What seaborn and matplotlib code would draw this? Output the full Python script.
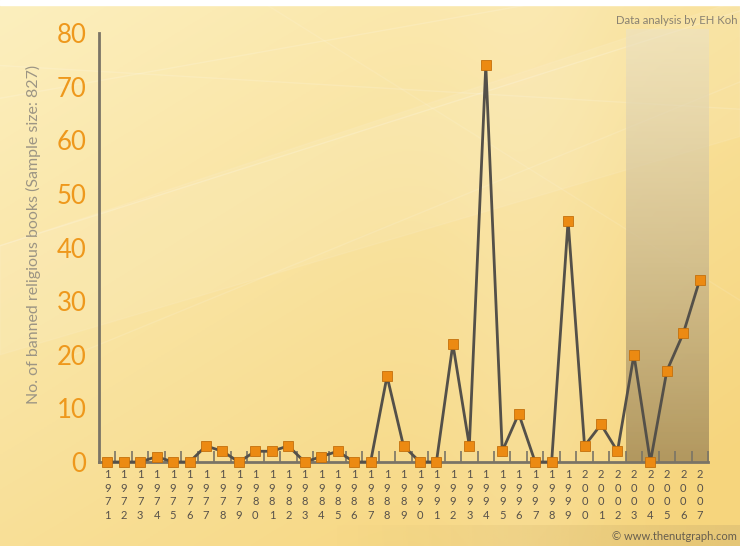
import numpy as np
import pandas as pd
import matplotlib
matplotlib.use("Agg")
import matplotlib.pyplot as plt
import seaborn as sns

# Banned religious books per year
years = list(range(1971, 2008))
counts = [0, 0, 0, 1, 0, 0, 3, 2, 0, 2, 2, 3, 0, 1, 2, 0, 0, 16, 3, 0,
          0, 22, 3, 74, 2, 9, 0, 0, 45, 3, 7, 2, 20, 0, 17, 24, 34]
y_ticks = [0, 10, 20, 30, 40, 50, 60, 70, 80]
highlight_years = (2003, 2007)

df = pd.DataFrame({"year": years, "count": counts})

sns.set_theme(style="white")
plt.rcParams["font.family"] = ["Lato", "DejaVu Sans"]

W, H = 740, 546
fig = plt.figure(figsize=(W / 100, H / 100), dpi=100)

# ---- warm yellow backdrop ----
bg = fig.add_axes([0, 0, 1, 1])
bg.set_axis_off()
gx, gy = np.meshgrid(np.linspace(0, 1, 300), np.linspace(0, 1, 220))
t = np.clip(0.5 * gx + 0.6 * gy, 0, 1)
top = np.array([252, 239, 190]) / 255
bot = np.array([246, 213, 125]) / 255
img = top[None, None, :] * (1 - t[..., None]) + bot[None, None, :] * t[..., None]
# a lighter vertical glow through the middle
glow = np.exp(-((gx - 0.72) / 0.12) ** 2)[..., None] * 0.12
img = img * (1 - glow) + glow
bg.imshow(img, extent=[0, 1, 0, 1], origin="upper", aspect="auto")
# faint light streaks
for (x0, y0, x1, y1, a) in [(0.0, 0.55, 1.0, 0.98, 0.18), (0.0, 0.82, 0.75, 1.0, 0.15),
                            (0.1, 0.35, 1.0, 0.85, 0.12), (0.0, 0.88, 1.0, 0.8, 0.14),
                            (0.35, 1.0, 1.0, 0.45, 0.1)]:
    bg.plot([x0, x1], [y0, y1], color="white", lw=1.0, alpha=a, transform=bg.transAxes)
bg.fill_between([0.0, 1.0], [0.35, 0.75], [0.55, 1.0], color="white", alpha=0.08,
                transform=bg.transAxes)
# darker footer band
band = np.linspace(0, 1, 200)[None, :, None]
band_img = np.concatenate([np.ones((1, 200, 3)) * np.array([218, 188, 115]) / 255,
                           (band * 0.6)], axis=2)
bg.imshow(band_img, extent=[0.45, 1.0, 0.0, 21 / H], aspect="auto", zorder=1)
# white strip across the very top
bg.axhspan(1 - 5 / H, 1.0, color="white", zorder=2)
bg.set_xlim(0, 1)
bg.set_ylim(0, 1)

# ---- main chart ----
left, right = 99 / W, 708 / W
bottom, topf = 1 - 462 / H, 1 - 33 / H
ax = fig.add_axes([left, bottom, right - left, topf - bottom])
ax.patch.set_alpha(0)

# shaded recent period with vertical gradient
rows = 200
shade = np.zeros((rows, 2, 4))
g = np.linspace(0, 1, rows)[:, None]
c_top = np.array([236, 226, 196]) / 255
c_bot = np.array([176, 150, 94]) / 255
shade[..., :3] = (c_top * (1 - g) + c_bot * g)[:, None, :]
shade[..., 3] = 0.6 + 0.37 * g
ax.imshow(shade, extent=[highlight_years[0] - 0.5, highlight_years[1] + 0.5, 0, 80.6],
          aspect="auto", origin="upper", zorder=0, clip_on=False)

sns.lineplot(data=df, x="year", y="count", ax=ax, color="#545049", lw=2.0,
             marker="s", markersize=7.5, markerfacecolor="#ec8a12",
             markeredgecolor="#c4700c", markeredgewidth=0.6, zorder=3, clip_on=False)

ax.set_xlim(years[0] - 0.5, years[-1] + 0.5)
ax.set_ylim(0, 80)

for side in ["top", "right"]:
    ax.spines[side].set_visible(False)
for side in ["left", "bottom"]:
    ax.spines[side].set_color("#7a7466")
    ax.spines[side].set_linewidth(2.0)

ax.set_yticks(y_ticks)
ax.set_yticklabels([str(v) for v in y_ticks], color="#ee981c", fontsize=18.5)
ax.tick_params(axis="y", direction="in", length=15, width=2, color="#7a7466", pad=9)

# year labels stacked one digit per line; tick marks between years
ax.set_xticks(years)
ax.set_xticklabels(["\n".join(str(y)) for y in years], color="#57514a",
                   fontsize=8, linespacing=1.3, va="top")
ax.tick_params(axis="x", which="major", length=0, pad=5)
ax.set_xticks([y + 0.5 for y in years], minor=True)
ax.tick_params(axis="x", which="minor", direction="in", length=8, width=1.2,
               color="#7a7466", bottom=True)
ax.set_xlabel("")
ax.set_ylabel("")

fig.text(33 / W, 1 - 234 / H, "No. of banned religious books (Sample size: 827)",
         rotation=90, ha="center", va="center", fontsize=11.5, color="#9c9584")
fig.text(738 / W, 1 - 21 / H, "Data analysis by EH Koh", ha="right", va="center",
         fontsize=8.2, color="#8a8272")
fig.text(737 / W, 1 - 537 / H, "\u00a9 www.thenutgraph.com", ha="right", va="center",
         fontsize=8, color="#675e4e")

fig.savefig("out.png", dpi=100)
